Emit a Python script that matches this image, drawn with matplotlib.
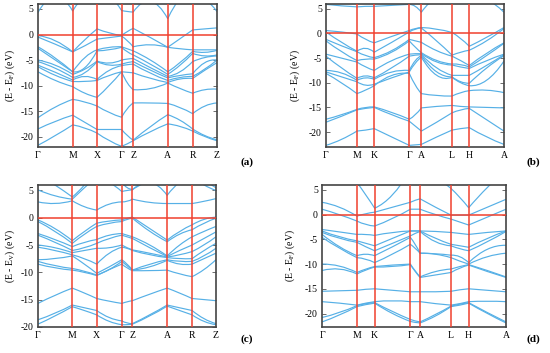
import numpy as np
import matplotlib.pyplot as plt
from matplotlib.path import Path
from matplotlib.patches import PathPatch

plt.rcParams['font.family'] = ['Liberation Serif', 'DejaVu Serif']
plt.rcParams['mathtext.fontset'] = 'stix'
plt.rcParams['axes.unicode_minus'] = False

# ---- high-symmetry paths (relative positions along k-path) ----
kpos_a = [0, 0.194, 0.33, 0.467, 0.532, 0.725, 0.864, 1]
klab_a = ['Γ', 'M', 'X', 'Γ', 'Z', 'A', 'R', 'Z']
kpos_b = [0, 0.174, 0.271, 0.468, 0.536, 0.708, 0.805, 1]
klab_b = ['Γ', 'M', 'K', 'Γ', 'A', 'L', 'H', 'A']
kpos_c = [0, 0.193, 0.33, 0.471, 0.531, 0.726, 0.866, 1]
klab_c = ['Γ', 'M', 'X', 'Γ', 'Z', 'A', 'R', 'Z']
kpos_d = [0, 0.19, 0.286, 0.48, 0.533, 0.701, 0.797, 1]
klab_d = ['Γ', 'M', 'K', 'Γ', 'A', 'L', 'H', 'A']

# ---- band energies (eV): value at each k-point and at the middle of each segment ----
bands_a = [
    [4.3, 7.5, 4.6, 7.5, 8.0, 7.5, 4.7, 4.5, 4.4, 6.5, 3.1, 7.0, 8.0, 7.0, 4.5],
    [-0.2, -1.2, -3.4, -1.0, 1.1, 0.3, -0.2, 0.6, 1.2, -0.6, -2.5, -0.8, 0.9, 1.1, 1.3],
    [-0.5, -1.9, -3.4, -2.2, -0.9, -0.6, -0.3, -1.2, -2.4, -2.0, -2.5, -2.8, -3.0, -3.0, -3.0],
    [-2.4, -4.6, -7.3, -4.5, -3.0, -2.5, -2.4, -2.8, -3.2, -5.0, -7.3, -5.5, -3.3, -3.5, -3.1],
    [-2.7, -5.0, -7.3, -6.5, -3.2, -3.0, -2.5, -3.4, -4.0, -5.8, -7.8, -6.0, -3.7, -4.2, -4.0],
    [-5.0, -6.0, -7.8, -6.8, -5.2, -5.6, -5.0, -4.8, -4.7, -6.5, -8.2, -7.3, -5.3, -4.5, -4.2],
    [-5.3, -6.6, -8.4, -7.5, -5.3, -6.0, -5.8, -5.5, -5.3, -7.0, -8.5, -8.0, -7.7, -5.5, -5.0],
    [-6.0, -7.4, -8.9, -8.2, -8.8, -7.0, -6.1, -5.9, -5.8, -7.6, -9.0, -8.4, -8.2, -6.8, -5.0],
    [-6.3, -8.0, -9.2, -9.2, -9.0, -8.0, -7.3, -7.4, -7.5, -8.6, -9.4, -8.7, -8.6, -7.0, -5.5],
    [-7.3, -9.0, -10.2, -11.5, -12.3, -10.0, -7.3, -9.5, -10.8, -10.6, -9.5, -10.6, -11.5, -10.8, -10.7],
    [-16.3, -14.2, -12.7, -13.2, -14.0, -15.3, -16.2, -14.5, -13.4, -13.4, -13.5, -14.3, -15.5, -14.0, -13.4],
    [-18.5, -17.0, -15.8, -17.2, -18.6, -18.6, -18.6, -19.8, -20.7, -18.0, -15.7, -16.8, -18.5, -19.8, -20.6],
    [-21.7, -19.8, -17.7, -18.3, -19.3, -20.8, -21.9, -21.4, -20.8, -19.0, -17.5, -18.0, -18.9, -20.0, -20.8],
]

bands_b = [
    [5.9, 5.6, 5.4, 5.5, 5.5, 5.7, 5.9, 5.5, 4.3, 7.0, 6.0, 7.0, 8.0, 7.0, 4.3],
    [0.6, 0.3, -0.1, -1.2, -1.9, -0.6, 0.6, 1.0, 1.2, 0.9, 0.2, -1.0, -2.6, -0.8, 1.2],
    [0.3, -1.8, -3.6, -3.0, -3.8, -1.8, 0.3, 0.9, 1.1, -1.5, -4.4, -3.8, -3.4, -1.5, 1.0],
    [-1.2, -2.5, -3.7, -4.5, -4.9, -3.5, -1.2, -1.5, -1.8, -3.5, -4.6, -5.5, -6.5, -4.0, -1.9],
    [-1.5, -3.7, -5.5, -5.2, -5.2, -3.8, -1.5, -2.8, -3.9, -5.5, -6.2, -6.3, -6.8, -4.5, -2.0],
    [-4.2, -5.0, -5.8, -6.8, -7.5, -5.5, -4.2, -4.1, -4.1, -5.8, -6.4, -6.8, -7.1, -5.5, -4.2],
    [-4.6, -7.0, -9.1, -8.6, -9.0, -7.0, -4.6, -4.4, -4.3, -7.0, -8.5, -8.5, -8.5, -6.5, -4.3],
    [-7.5, -8.0, -9.5, -9.0, -9.3, -7.8, -7.5, -5.5, -4.5, -7.8, -8.8, -9.8, -10.1, -7.0, -4.5],
    [-7.8, -8.8, -9.8, -10.5, -10.3, -9.0, -7.8, -6.0, -4.8, -8.5, -8.9, -10.0, -10.6, -9.5, -5.6],
    [-8.1, -10.0, -12.2, -11.5, -10.6, -8.5, -8.1, -10.5, -12.2, -12.6, -12.7, -12.0, -11.6, -11.5, -12.0],
    [-17.4, -16.5, -15.4, -15.0, -14.9, -16.0, -17.4, -16.5, -15.1, -14.8, -14.6, -14.8, -14.9, -15.0, -15.1],
    [-18.0, -16.8, -15.5, -15.2, -15.0, -16.5, -17.8, -18.8, -19.8, -18.0, -16.1, -15.5, -15.2, -17.5, -19.8],
    [-22.7, -21.5, -19.8, -19.6, -19.3, -21.0, -22.7, -22.6, -22.5, -21.0, -19.6, -19.3, -19.1, -21.0, -22.5],
]

bands_c = [
    [8.0, 6.0, 3.8, 6.0, 9.0, 9.0, 6.5, 5.5, 5.2, 7.0, 9.0, 9.0, 9.0, 7.0, 5.5],
    [5.1, 4.0, 3.4, 5.5, 7.5, 6.5, 4.8, 5.0, 5.1, 6.5, 4.1, 6.5, 7.5, 6.0, 5.0],
    [2.9, 2.6, 3.1, 2.0, 1.4, 2.5, 2.9, 3.0, 3.4, 2.8, 2.6, 2.6, 2.6, 3.0, 3.5],
    [-0.4, -2.0, -4.2, -2.5, -1.0, -0.6, -0.4, -0.1, 0.1, -2.0, -4.1, -2.5, -1.3, -0.3, 0.1],
    [-0.7, -2.5, -4.7, -3.0, -1.6, -1.0, -0.7, -0.3, -0.1, -2.5, -4.4, -3.0, -2.2, -1.0, -0.1],
    [-2.9, -4.0, -5.3, -4.5, -4.0, -3.2, -2.9, -3.2, -3.5, -5.0, -7.0, -5.0, -3.5, -2.5, -1.6],
    [-3.2, -4.5, -6.0, -5.5, -4.7, -3.8, -3.2, -3.5, -3.8, -5.5, -7.1, -6.0, -5.0, -3.8, -2.6],
    [-5.0, -5.5, -6.4, -6.0, -5.6, -5.5, -5.0, -5.5, -5.9, -6.5, -7.2, -6.8, -6.2, -5.0, -3.5],
    [-5.4, -6.0, -6.8, -7.5, -8.5, -6.5, -5.4, -5.6, -6.0, -6.8, -7.3, -7.5, -7.5, -6.0, -4.7],
    [-7.7, -7.5, -7.0, -8.5, -10.2, -9.0, -7.7, -8.5, -9.6, -8.5, -7.7, -8.0, -8.0, -7.0, -5.6],
    [-8.0, -8.8, -9.3, -9.8, -10.5, -9.5, -8.0, -8.8, -9.6, -9.0, -7.8, -8.5, -8.5, -7.5, -6.5],
    [-8.5, -9.2, -9.6, -10.0, -10.6, -9.5, -8.5, -9.2, -9.7, -9.7, -9.6, -10.3, -10.8, -9.5, -7.7],
    [-15.7, -14.2, -12.9, -13.8, -14.8, -15.3, -15.7, -15.4, -15.2, -14.0, -12.9, -13.8, -14.8, -15.0, -15.2],
    [-18.7, -17.5, -16.0, -16.5, -17.0, -18.3, -18.9, -19.3, -19.4, -17.8, -16.0, -16.5, -17.0, -18.5, -19.4],
    [-19.5, -18.0, -16.3, -17.0, -17.8, -19.0, -19.6, -19.6, -19.5, -18.0, -16.2, -17.0, -17.8, -19.0, -19.6],
]

bands_d = [
    [9.0, 9.0, 6.5, 4.0, 1.3, 4.0, 9.0, 9.0, 9.0, 7.5, 5.3, 3.5, 1.4, 5.5, 9.0],
    [2.5, 1.5, -0.3, 0.2, 0.5, 1.5, 2.5, 2.9, 3.2, 1.5, -0.1, -0.1, -0.1, 1.5, 3.1],
    [1.1, 0.0, -1.3, -2.0, -2.3, -0.8, 1.1, 1.1, 1.1, 0.0, -0.9, -1.5, -2.1, -0.5, 1.1],
    [-3.0, -3.5, -4.0, -4.0, -4.2, -3.6, -3.3, -3.3, -3.3, -3.4, -3.6, -3.8, -4.0, -3.6, -3.3],
    [-3.3, -4.5, -5.3, -5.8, -6.3, -4.8, -3.3, -3.3, -3.3, -4.8, -6.0, -6.3, -6.6, -4.8, -3.3],
    [-3.6, -4.8, -5.6, -6.5, -7.3, -5.8, -4.3, -3.8, -3.4, -5.5, -6.3, -6.9, -7.3, -5.5, -3.4],
    [-4.0, -6.5, -8.3, -8.0, -8.3, -6.5, -4.6, -6.0, -7.8, -7.9, -8.2, -8.5, -9.7, -7.0, -6.2],
    [-4.6, -6.8, -8.7, -9.0, -9.7, -8.0, -6.0, -6.8, -7.8, -8.0, -8.7, -9.4, -10.0, -8.5, -7.8],
    [-10.0, -10.4, -11.7, -11.0, -10.5, -10.2, -10.0, -11.4, -12.6, -11.5, -11.0, -10.5, -10.1, -11.3, -12.6],
    [-11.3, -11.0, -12.0, -11.2, -10.6, -10.5, -10.1, -11.5, -12.7, -12.2, -11.7, -10.8, -10.2, -11.5, -12.7],
    [-15.5, -15.4, -15.3, -15.1, -15.0, -15.3, -15.6, -15.6, -15.6, -15.6, -15.5, -15.2, -15.0, -15.3, -15.6],
    [-17.6, -17.9, -18.3, -17.9, -17.6, -17.4, -17.6, -17.6, -17.6, -18.0, -18.3, -18.0, -17.6, -17.5, -17.6],
    [-20.8, -19.8, -18.4, -18.0, -17.8, -19.6, -21.2, -21.5, -21.7, -20.2, -18.5, -18.1, -17.8, -19.8, -21.7],
    [-21.7, -20.3, -18.6, -18.2, -17.9, -20.0, -21.6, -21.8, -21.9, -20.5, -18.6, -18.3, -17.9, -20.0, -21.9],
]

yticks = [5, 0, -5, -10, -15, -20]

BLUE = '#56b0e6'
RED = '#f0402e'


def band_path(xs, ys):
    # one parabolic piece per k-segment, passing through the middle value
    verts = [(xs[0], ys[0])]
    codes = [Path.MOVETO]
    for i in range(0, len(xs) - 1, 2):
        ctrl = 2 * ys[i + 1] - (ys[i] + ys[i + 2]) / 2
        verts += [(xs[i + 1], ctrl), (xs[i + 2], ys[i + 2])]
        codes += [Path.CURVE3, Path.CURVE3]
    return Path(verts, codes)


def draw_panel(fig, rect, kpos, klab, bands, ylim, ylabel, tag, tag_xy, label_x):
    ax = fig.add_axes(rect)
    xs = []
    for i in range(len(kpos) - 1):
        xs += [kpos[i], (kpos[i] + kpos[i + 1]) / 2]
    xs.append(kpos[-1])

    for b in bands:
        ax.add_patch(PathPatch(band_path(xs, b), fill=False,
                               edgecolor=BLUE, lw=0.85, zorder=2))

    for k in kpos[1:-1]:
        ax.axvline(k, color=RED, lw=1.1, zorder=3)
    ax.axhline(0, color=RED, lw=1.1, zorder=3)

    ax.set_xlim(0, 1)
    ax.set_ylim(*ylim)
    ax.set_xticks(kpos)
    ax.set_xticklabels(klab, fontsize=7)
    ax.set_yticks(yticks)
    ax.set_yticklabels([str(t) for t in yticks], fontsize=7)
    ax.tick_params(axis='x', length=0, pad=3)
    ax.tick_params(axis='y', direction='in', length=3, width=0.6,
                   right=True, pad=3, color='#555555')
    ax.set_ylabel(ylabel, fontsize=7)
    ax.yaxis.set_label_coords(label_x, 0.5)
    for s in ax.spines.values():
        s.set_color('#444444')
        s.set_linewidth(1.2)
    fig.text(tag_xy[0], tag_xy[1], tag, fontsize=8, fontweight='bold',
             ha='center', va='center')
    return ax


fig = plt.figure(figsize=(5.5, 3.53), dpi=100)
fig.patch.set_facecolor('white')

lab_f = r'(E - E$_\mathrm{F}$) (eV)'
lab_v = r'(E - E$_\mathrm{V}$) (eV)'

draw_panel(fig, [0.069, 0.584, 0.3255, 0.405], kpos_a, klab_a, bands_a,
           (-22, 6), lab_f, '(a)', (0.449, 0.541), -0.118)
draw_panel(fig, [0.5927, 0.584, 0.3236, 0.405], kpos_b, klab_b, bands_b,
           (-23, 6), lab_f, '(b)', (0.969, 0.541), -0.135)
draw_panel(fig, [0.069, 0.074, 0.3236, 0.402], kpos_c, klab_c, bands_c,
           (-20, 6), lab_v, '(c)', (0.449, 0.040), -0.118)
draw_panel(fig, [0.5855, 0.074, 0.3345, 0.402], kpos_d, klab_d, bands_d,
           (-22.7, 6), lab_f, '(d)', (0.969, 0.040), -0.136)

fig.savefig('out.png', dpi=100, facecolor='white')
